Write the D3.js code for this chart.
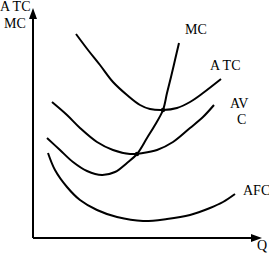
<!DOCTYPE html>
<html><head><meta charset="utf-8">
<script src="https://cdn.jsdelivr.net/npm/d3@7"></script>
<style>body{margin:0;background:#fff}svg{display:block}text{font-family:"Liberation Serif","Times New Roman",serif;font-size:14px;fill:#000}</style>
</head><body><svg id="c" width="269" height="255"></svg>
<script>
const atcQ = [43,55,67,80,94,107,117,130,144,157,170,188];
const atcC = [204,188,173,156,143,133,129,128,130,136,145,159];
const avcQ = [19,34,47,64,80,97,110,124,140,157,170,181];
const avcC = [136,123,110,96,88,84,85,88,96,110,121,133];
const mcQ = [14,27,40,54,69,82,94,104,114,122,130,134,138,142,146];
const mcC = [100,88,76,67,63,66,75,84,100,113,128,145,161,178,195];
const afcQ = [15,22,34,47,64,84,110,134,157,177,190,202];
const afcC = [85,68,51,38,28,21,17,19,23,30,36,44];
const dotQ = [104,130];
const dotC = [84,128];
const curveLabels = [["MC",152,204],["A TC",177,168],["AV",197,130],["C",204,114],["AFC",210,43]];

const svg = d3.select("#c");
const x = d3.scaleLinear().domain([0,229]).range([33,262]);
const y = d3.scaleLinear().domain([0,230]).range([238,8]);
const line = d3.line().x(d=>x(d[0])).y(d=>y(d[1])).curve(d3.curveCatmullRom);
const series = [[atcQ,atcC],[avcQ,avcC],[mcQ,mcC],[afcQ,afcC]];
series.forEach(([q,c])=>{
  svg.append("path").attr("d",line(q.map((v,i)=>[v,c[i]])))
    .attr("fill","none").attr("stroke","#000").attr("stroke-width",2);
});
// axes
svg.append("line").attr("x1",x(0)).attr("y1",y(0)).attr("x2",x(0)).attr("y2",y(222)).attr("stroke","#000").attr("stroke-width",2);
svg.append("line").attr("x1",x(0)).attr("y1",y(0)).attr("x2",x(221)).attr("y2",y(0)).attr("stroke","#000").attr("stroke-width",2);
svg.append("path").attr("d",`M${x(0)},${y(230)} L${x(0)-4},${y(219)} L${x(0)+4},${y(219)} Z`).attr("fill","#000");
svg.append("path").attr("d",`M${x(229)},${y(0)} L${x(218)},${y(0)-4} L${x(218)},${y(0)+4} Z`).attr("fill","#000");
dotQ.forEach((q,i)=>svg.append("circle").attr("cx",x(q)).attr("cy",y(dotC[i])).attr("r",2.2).attr("fill","#000"));
// axis labels
svg.append("text").attr("x",0).attr("y",11).text("A TC");
svg.append("text").attr("x",4).attr("y",28).text("MC");
svg.append("text").attr("x",257).attr("y",250).text("Q");
curveLabels.forEach(([t,q,c])=>svg.append("text").attr("x",x(q)).attr("y",y(c)).text(t));
</script></body></html>
